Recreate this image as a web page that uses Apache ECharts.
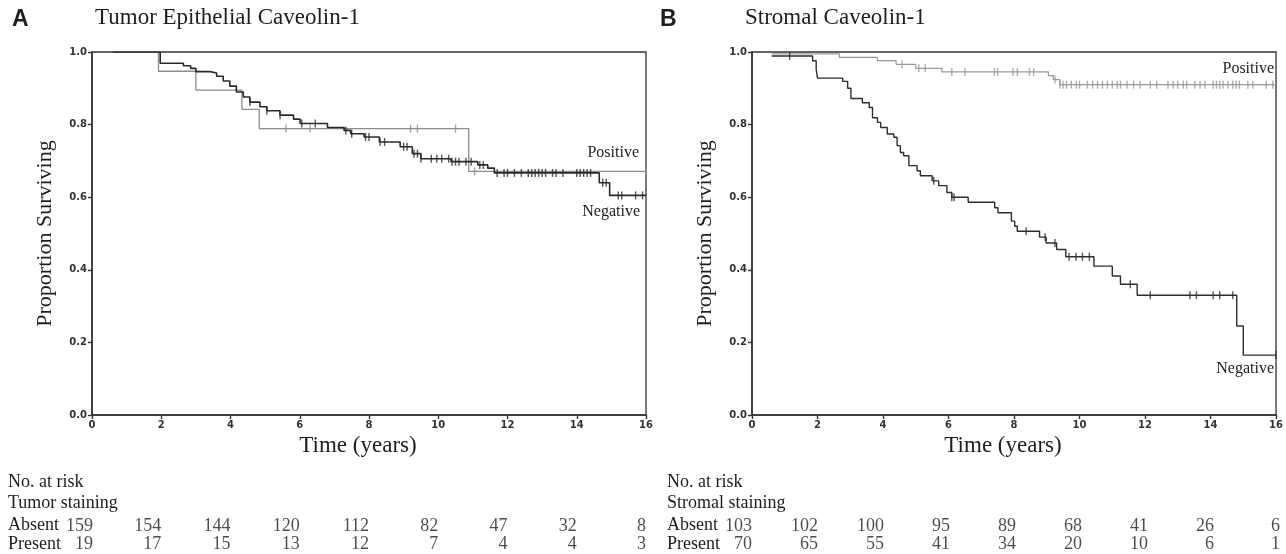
<!DOCTYPE html>
<html><head><meta charset="utf-8">
<script src="https://cdn.jsdelivr.net/npm/echarts@6/dist/echarts.min.js"></script>
<style>html,body{margin:0;padding:0;background:#fff}#c{width:1286px;height:554px}</style>
</head><body><div id="c"></div>
<script>
// ---------- DATA ----------
const xTicks = [0, 2, 4, 6, 8, 10, 12, 14, 16];
const yTicks = [0, 0.2, 0.4, 0.6, 0.8, 1.0];

// Panel A: tumor epithelial caveolin-1  [time, proportion surviving]
const tumorNegative = [[0.6,1.0],[1.97,0.969],[2.64,0.962],[2.85,0.955],[3.0,0.946],[3.41,0.942],[3.6,0.933],[3.79,0.92],[3.98,0.906],[4.17,0.89],[4.37,0.876],[4.56,0.862],[4.85,0.849],[5.05,0.838],[5.43,0.826],[5.82,0.815],[6.01,0.803],[6.8,0.792],[7.28,0.784],[7.47,0.775],[7.86,0.766],[8.3,0.752],[8.9,0.739],[9.25,0.72],[9.5,0.706],[10.37,0.698],[11.14,0.689],[11.43,0.68],[11.62,0.667],[14.65,0.64],[14.95,0.605],[16,0.605]];
const tumorPositive = [[0.6,1.0],[1.92,0.947],[3.0,0.895],[4.33,0.842],[4.83,0.789],[10.88,0.671],[16,0.671]];
const tumorNegativeCensor = [4.56,5.05,5.43,6.06,6.45,7.33,7.5,7.9,8.0,8.32,8.45,9.0,9.1,9.3,9.4,9.5,9.8,9.96,10.1,10.3,10.4,10.5,10.6,10.8,10.95,11.2,11.3,11.7,11.9,12.0,12.2,12.4,12.6,12.7,12.8,12.9,13.0,13.1,13.3,13.4,13.6,14.0,14.1,14.2,14.3,14.4,14.75,14.85,15.2,15.3,15.7,15.9];
const tumorPositiveCensor = [5.6,6.3,9.2,9.4,10.5,11.05,16];

// Panel B: stromal caveolin-1
const stromalNegative = [[0.6,0.989],[1.85,0.976],[1.96,0.952],[2.0,0.928],[2.77,0.919],[2.92,0.9],[3.02,0.872],[3.37,0.86],[3.58,0.847],[3.68,0.819],[3.83,0.806],[3.93,0.792],[4.13,0.774],[4.33,0.765],[4.43,0.742],[4.53,0.723],[4.63,0.714],[4.79,0.687],[5.04,0.673],[5.14,0.659],[5.5,0.645],[5.7,0.632],[5.95,0.613],[6.1,0.6],[6.6,0.586],[7.41,0.571],[7.51,0.557],[7.92,0.534],[8.02,0.52],[8.1,0.506],[8.78,0.49],[8.98,0.474],[9.3,0.456],[9.58,0.436],[10.44,0.41],[11.0,0.383],[11.25,0.36],[11.76,0.33],[14.8,0.245],[15.0,0.165],[16,0.165]];
const stromalPositive = [[0.6,0.995],[2.67,0.985],[3.83,0.976],[4.4,0.966],[5.0,0.955],[5.8,0.945],[9.05,0.935],[9.2,0.924],[9.4,0.91],[16,0.91]];
const stromalNegativeCensor = [1.15,5.55,6.1,6.17,8.37,8.95,9.25,9.68,9.89,10.09,10.3,11.55,12.16,13.37,13.57,14.08,14.28,14.68,16];
const stromalPositiveCensor = [4.58,5.09,5.29,6.1,6.5,7.4,7.5,7.97,8.1,8.47,8.6,9.25,9.4,9.5,9.6,9.75,9.9,10.0,10.24,10.4,10.55,10.7,10.85,11.0,11.15,11.25,11.45,11.65,11.85,12.16,12.36,12.7,12.86,13.0,13.17,13.27,13.52,13.68,13.83,14.08,14.18,14.28,14.38,14.53,14.68,14.78,14.88,15.14,15.29,15.7,15.9];

// Numbers at risk
const riskTimes = [0, 2, 4, 6, 8, 10, 12, 14, 16];
const tumorAbsent = [159, 154, 144, 120, 112, 82, 47, 32, 8];
const tumorPresent = [19, 17, 15, 13, 12, 7, 4, 4, 3];
const stromalAbsent = [103, 102, 100, 95, 89, 68, 41, 26, 6];
const stromalPresent = [70, 65, 55, 41, 34, 20, 10, 6, 1];

// ---------- CHART ----------
const SERIF = 'Liberation Serif';
const SANS = 'DejaVu Sans';
const TXT = '#1e1e1e';

function stepAt(curve, t) {
  let s = 1;
  for (const p of curve) { if (p[0] <= t) s = p[1]; }
  return s;
}

const grid = [
  {show: true, borderColor: '#333', borderWidth: 1.3, backgroundColor: 'transparent', left: 92, top: 52, width: 554, height: 363},
  {show: true, borderColor: '#333', borderWidth: 1.3, backgroundColor: 'transparent', left: 752, top: 52, width: 528, height: 363},
  {left: 92, top: 517, width: 554, height: 40},
  {left: 752, top: 517, width: 528, height: 40}
];

function mainX(i) {
  return {
    gridIndex: i, type: 'value', min: 0, max: 16, interval: 2,
    axisLine: {show: true, lineStyle: {color: '#333', width: 1.6}},
    axisTick: {show: true, inside: false, length: 4, lineStyle: {color: '#333', width: 1.4}},
    axisLabel: {show: true, margin: 5, fontFamily: SANS, fontWeight: 'bold', fontSize: 10, color: '#333'},
    splitLine: {show: false},
    name: 'Time (years)', nameLocation: 'middle', nameGap: 19,
    nameTextStyle: {fontFamily: SERIF, fontSize: 23, color: TXT, padding: [0, 22, 0, 0]}
  };
}
function mainY(i) {
  return {
    gridIndex: i, type: 'value', min: 0, max: 1, interval: 0.2,
    axisLine: {show: true, lineStyle: {color: '#333', width: 1.6}},
    axisTick: {show: true, inside: false, length: 4, lineStyle: {color: '#333', width: 1.4}},
    axisLabel: {show: true, margin: 5, fontFamily: SANS, fontWeight: 'bold', fontSize: 10, color: '#333',
      formatter: v => v.toFixed(1)},
    splitLine: {show: false},
    name: 'Proportion Surviving', nameLocation: 'middle', nameGap: 36,
    nameTextStyle: {fontFamily: SERIF, fontSize: 22, color: TXT}
  };
}
function tableX(i) {
  return {gridIndex: i, type: 'value', min: 0, max: 16, show: false};
}
function tableY(i) {
  return {gridIndex: i, type: 'category', data: ['Absent', 'Present'], inverse: true, show: false};
}

function kmLine(name, data, xi, color, width, label, labelOffset) {
  return {
    type: 'line', name: name, xAxisIndex: xi, yAxisIndex: xi, data: data,
    step: 'end', showSymbol: false, symbol: 'none', silent: true, z: 3,
    lineStyle: {color: color, width: width},
    endLabel: {show: true, formatter: label, align: 'right', verticalAlign: 'middle',
      offset: labelOffset, fontFamily: SERIF, fontSize: 16, color: TXT, distance: 0}
  };
}
function censor(times, curve, xi, color) {
  return {
    type: 'scatter', xAxisIndex: xi, yAxisIndex: xi, silent: true, z: 4,
    symbol: 'rect', symbolSize: [1.4, 8],
    itemStyle: {color: color},
    data: times.map(t => [t, stepAt(curve, t)])
  };
}
function riskRow(values, row, xi, firstOffset) {
  return {
    type: 'scatter', xAxisIndex: xi, yAxisIndex: xi, silent: true, symbolSize: 0,
    data: riskTimes.map((t, k) => ({
      value: [t, row, values[k]],
      label: {offset: [k === 0 ? firstOffset : 0, 0]}
    })),
    label: {show: true, position: 'left', distance: 0, formatter: p => String(p.value[2]),
      fontFamily: SERIF, fontSize: 18, color: TXT}
  };
}

const series = [
  kmLine('Positive', tumorPositive, 0, '#8d8d8d', 1.3, 'Positive', [-7, -19]),
  kmLine('Negative', tumorNegative, 0, '#2a2a2a', 1.6, 'Negative', [-6, 16]),
  censor(tumorPositiveCensor, tumorPositive, 0, '#8d8d8d'),
  censor(tumorNegativeCensor, tumorNegative, 0, '#2a2a2a'),
  kmLine('Positive', stromalPositive, 1, '#9a9a9a', 1.2, 'Positive', [-2, -16]),
  kmLine('Negative', stromalNegative, 1, '#2e2e2e', 1.4, 'Negative', [-2, 14]),
  censor(stromalPositiveCensor, stromalPositive, 1, '#9a9a9a'),
  censor(stromalNegativeCensor, stromalNegative, 1, '#2e2e2e'),
  riskRow(tumorAbsent, 'Absent', 2, 1),
  riskRow(tumorPresent, 'Present', 2, 1),
  riskRow(stromalAbsent, 'Absent', 3, 0),
  riskRow(stromalPresent, 'Present', 3, 0)
];

function txt(x, y, s, font, size, weight) {
  return {type: 'text', left: x, top: y, silent: true,
    style: {text: s, fontFamily: font, fontSize: size, fontWeight: weight || 'normal', fill: TXT}};
}
const graphic = [
  txt(12, 8, 'A', 'Liberation Sans', 23, 'bold'),
  txt(95, 6, 'Tumor Epithelial Caveolin-1', SERIF, 23),
  txt(660, 8, 'B', 'Liberation Sans', 23, 'bold'),
  txt(745, 6, 'Stromal Caveolin-1', SERIF, 23),
  txt(8, 473, 'No. at risk', SERIF, 18),
  txt(8, 494, 'Tumor staining', SERIF, 18),
  txt(8, 516, 'Absent', SERIF, 18),
  txt(8, 535, 'Present', SERIF, 18),
  txt(667, 473, 'No. at risk', SERIF, 18),
  txt(667, 494, 'Stromal staining', SERIF, 18),
  txt(667, 516, 'Absent', SERIF, 18),
  txt(667, 535, 'Present', SERIF, 18)
];

const chart = echarts.init(document.getElementById('c'), null, {renderer: 'canvas'});
chart.setOption({
  animation: false,
  backgroundColor: '#fff',
  grid: grid,
  xAxis: [mainX(0), mainX(1), tableX(2), tableX(3)],
  yAxis: [mainY(0), mainY(1), tableY(2), tableY(3)],
  series: series,
  graphic: graphic
});
</script></body></html>
